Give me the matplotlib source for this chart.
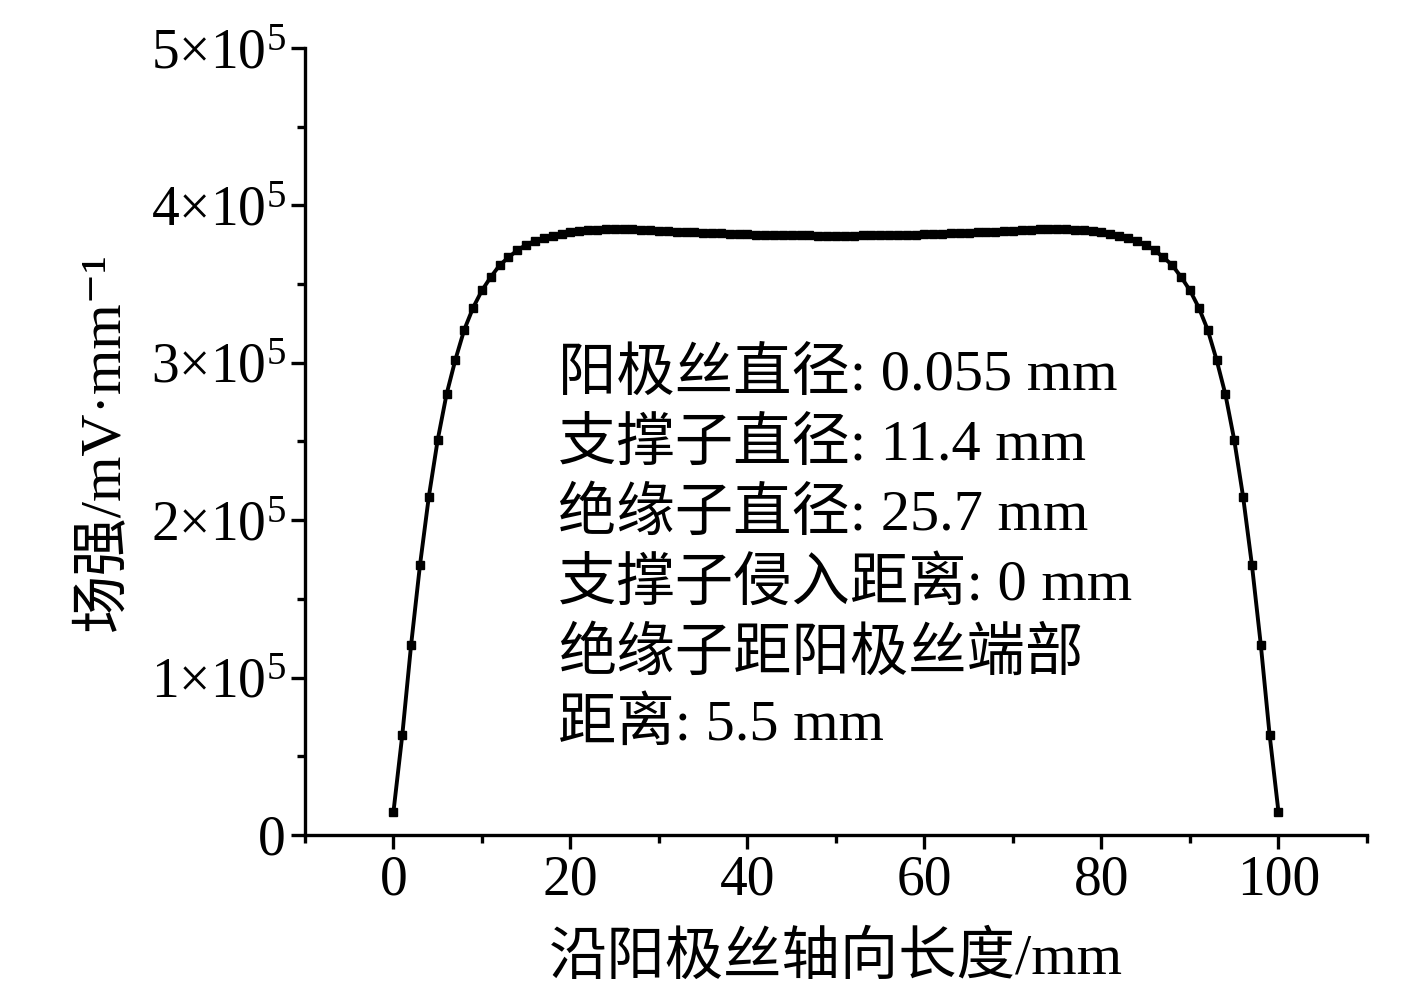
import matplotlib
matplotlib.use("Agg")
import numpy as np
from matplotlib import pyplot as plt
from matplotlib.ticker import MultipleLocator, FuncFormatter

# fonts: Times-like latin, CJK fallback
plt.rcParams['font.family'] = ['Liberation Serif', 'Noto Sans CJK SC', 'DejaVu Serif']
plt.rcParams['mathtext.fontset'] = 'custom'
plt.rcParams['mathtext.rm'] = 'Liberation Serif'
plt.rcParams['mathtext.it'] = 'Liberation Serif:italic'
plt.rcParams['axes.unicode_minus'] = True

# position along the anode wire (mm)
positions = list(range(0, 101))

# field strength (mV/mm)
field = [
    14600, 63500, 121000, 171500, 215000, 251000, 280000, 302000, 321000, 335000,
    346000, 354500, 362000, 367000, 371500, 375000, 377500, 379300, 380800, 382000,
    383000, 383700, 384200, 384600, 384800, 384900, 384900, 384800, 384600, 384200,
    383900, 383600, 383300, 383000, 382800, 382600, 382400, 382200, 382000, 381800,
    381600, 381500, 381300, 381200, 381100, 381000, 380900, 380900, 380800, 380800,
    380800,
    380800, 380800, 380900, 380900, 381000, 381100, 381200, 381300, 381500, 381600,
    381800, 382000, 382200, 382400, 382600, 382800, 383000, 383300, 383600, 383900,
    384200, 384600, 384800, 384900, 384900, 384800, 384600, 384200, 383700, 383000,
    382000, 380800, 379300, 377500, 375000, 371500, 367000, 362000, 354500, 346000,
    335000, 321000, 302000, 280000, 251000, 215000, 171500, 121000, 63500, 14600,
]

note_lines = [
    "阳极丝直径: 0.055 mm",
    "支撑子直径: 11.4 mm",
    "绝缘子直径: 25.7 mm",
    "支撑子侵入距离: 0 mm",
    "绝缘子距阳极丝端部",
    "距离: 5.5 mm",
]

x_label = "沿阳极丝轴向长度/mm"
y_label = "场强/mV·mm⁻¹"


def sci_label(v, pos):
    # 0 stays plain, the rest as a×10^5
    if v == 0:
        return "0"
    return "%d×10$^{5}$" % round(v / 1e5)


fig = plt.figure(figsize=(14.17, 9.92), dpi=100)
ax = fig.add_axes([0.2152, 0.1583, 0.7495, 0.7933])

ax.plot(positions, field, color="black", linewidth=2.8,
        marker="s", markersize=6)

ax.set_xlim(-10, 110)
ax.set_ylim(0, 5e5)

ax.xaxis.set_major_locator(MultipleLocator(20))
ax.xaxis.set_minor_locator(MultipleLocator(10))
ax.yaxis.set_major_locator(MultipleLocator(1e5))
ax.yaxis.set_minor_locator(MultipleLocator(0.5e5))
ax.yaxis.set_major_formatter(FuncFormatter(sci_label))

for side in ["top", "right"]:
    ax.spines[side].set_visible(False)
for side in ["left", "bottom"]:
    ax.spines[side].set_linewidth(2.4)

ax.tick_params(which="major", direction="out", length=10, width=2.4,
               labelsize=40, pad=4)
ax.tick_params(which="minor", direction="out", length=5.5, width=2.4)

ax.set_xlabel(x_label, fontsize=42, labelpad=18)
ax.set_ylabel(y_label, fontsize=42, labelpad=14)

# parameter block inside the plot, one text per line
for i, line in enumerate(note_lines):
    ax.text(0.2382, 0.5845 - i * 0.0889, line, transform=ax.transAxes,
            fontsize=42, va="center", ha="left")

fig.savefig("out.png", dpi=100)
